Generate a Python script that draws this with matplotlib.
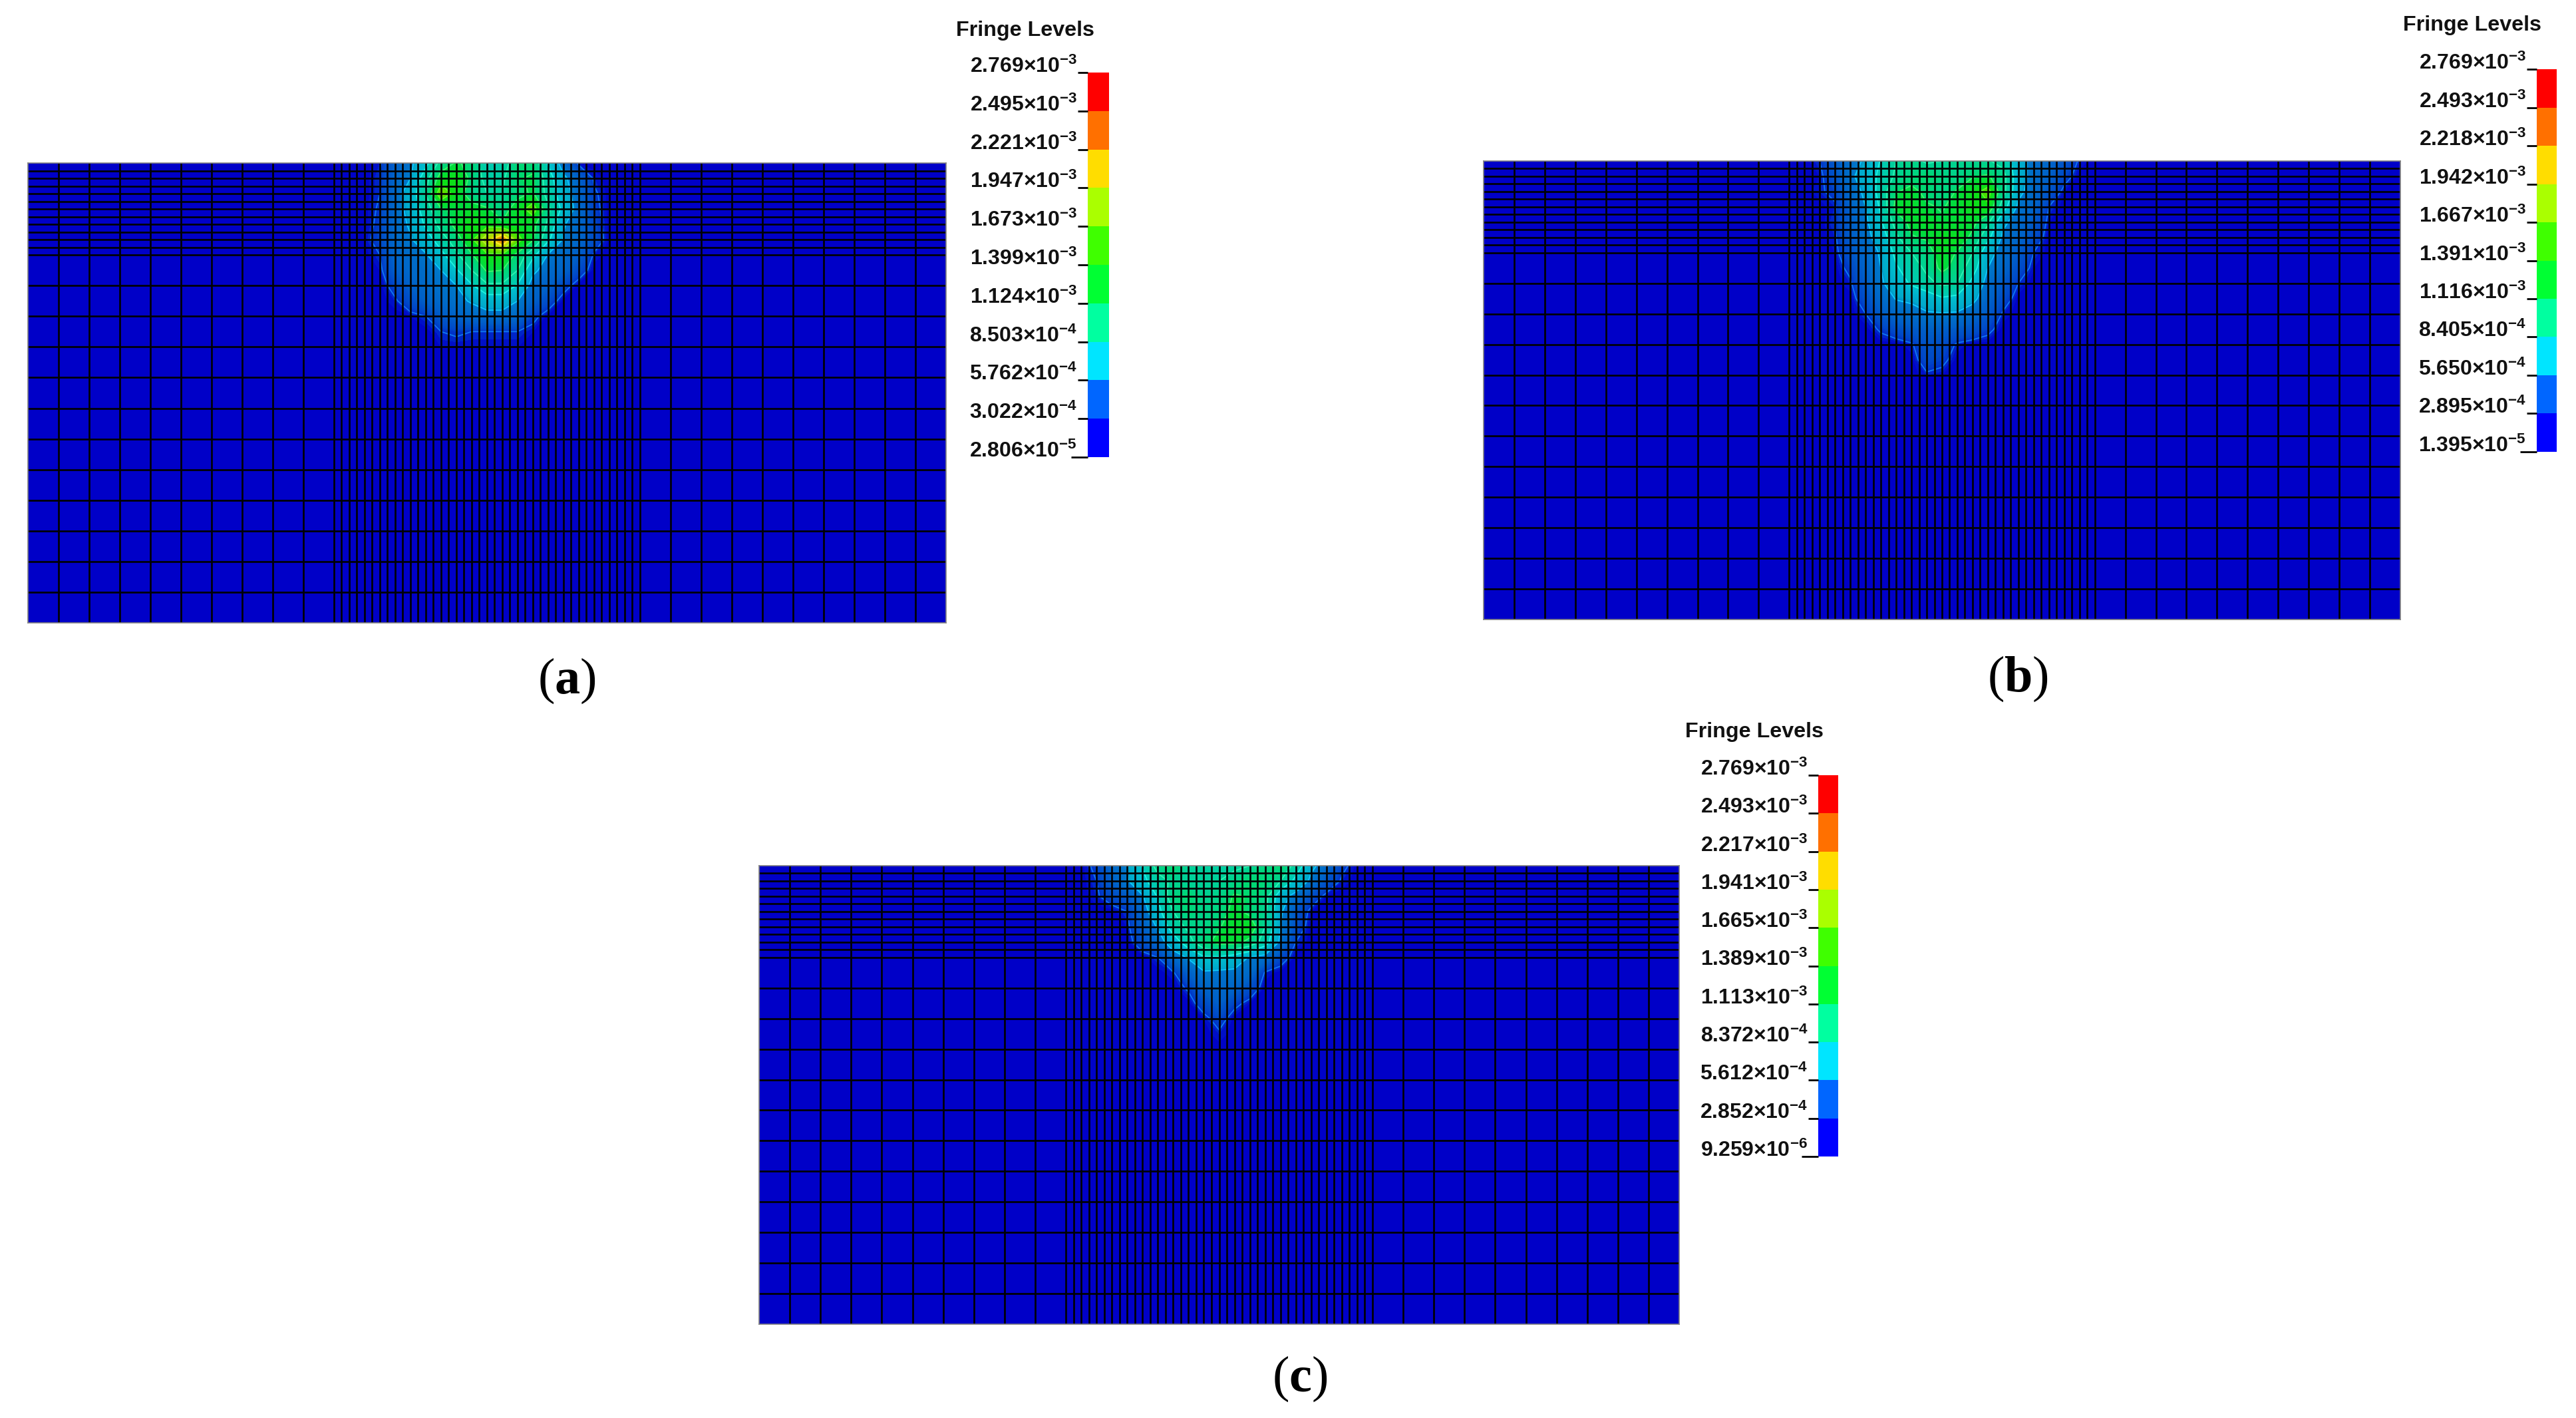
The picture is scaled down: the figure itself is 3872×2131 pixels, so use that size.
import matplotlib
matplotlib.use("Agg")
import matplotlib.pyplot as plt
from matplotlib.colors import LinearSegmentedColormap
import numpy as np

W, H = 3873, 2131

plt.rcParams["font.family"] = ["Liberation Sans", "DejaVu Sans"]
plt.rcParams["mathtext.fontset"] = "custom"
plt.rcParams["mathtext.rm"] = "Liberation Sans:bold"
plt.rcParams["mathtext.bf"] = "Liberation Serif:bold"
plt.rcParams["mathtext.default"] = "rm"

# mesh cell sizes across and down
cells_x = [2.0] * 10 + [0.5] * 40 + [2.0] * 10
cells_y = [0.5] * 12 + [2.0] * 12

# sample positions of the field tables, columns across and rows down
field_x = list(range(20, 41))
field_y = list(range(0, 15))

# fringe values, 1e-3 units
field_a = [
    [0, 0, 0, .02, .15, .25, .5, .95, 1.15, 1.05, .62, .7, 1.05, 1.05, .55, .18, .01, 0, 0, 0, 0],
    [0, 0, 0, .03, .17, .3, .75, 1.25, 1.35, 1.05, .75, .8, 1.1, 1.15, .7, .35, .15, .02, 0, 0, 0],
    [0, 0, 0, .03, .2, .42, .85, 1.6, 1.3, .95, .85, .85, 1.05, 1.15, .75, .42, .18, .04, 0, 0, 0],
    [0, 0, 0, .04, .2, .38, .72, 1.1, 1.15, 1.25, 1.15, 1.0, 1.25, 1.55, .9, .5, .2, .05, 0, 0, 0],
    [0, 0, 0, .05, .2, .33, .62, .95, 1.2, 1.35, 1.3, 1.15, 1.25, 1.2, .8, .32, .18, .06, 0, 0, 0],
    [0, 0, .01, .06, .2, .28, .45, .72, 1.0, 1.35, 1.85, 2.3, 1.5, 1.15, .62, .28, .18, .08, 0, 0, 0],
    [0, 0, 0, .03, .18, .22, .28, .5, .8, 1.1, 1.35, 1.35, 1.05, .65, .28, .2, .14, .02, 0, 0, 0],
    [0, 0, 0, .01, .14, .2, .22, .3, .55, .85, 1.15, 1.12, .85, .35, .2, .17, .07, 0, 0, 0, 0],
    [0, 0, 0, 0, .06, .15, .2, .25, .3, .55, .8, .8, .55, .2, .15, .06, 0, 0, 0, 0, 0],
    [0, 0, 0, 0, .02, .08, .15, .2, .25, .32, .42, .42, .3, .15, .07, 0, 0, 0, 0, 0, 0],
    [0, 0, 0, 0, 0, .01, .03, .12, .17, .2, .22, .22, .2, .05, 0, 0, 0, 0, 0, 0, 0],
    [0, 0, 0, 0, 0, 0, 0, .03, .04, .03, .03, .03, .03, .01, 0, 0, 0, 0, 0, 0, 0],
    [0, 0, 0, 0, 0, 0, 0, .01, .01, .01, .01, .01, .01, 0, 0, 0, 0, 0, 0, 0, 0],
    [0] * 21,
    [0] * 21,
]
field_b = [
    [0, 0, .03, .12, .22, .33, .6, .85, .95, .8, .85, .9, .9, .88, .75, .4, .22, .18, .1, .02, 0],
    [0, 0, .01, .1, .25, .42, .65, .9, 1.0, 1.12, 1.0, .95, 1.1, 1.15, .95, .4, .22, .15, .06, 0, 0],
    [0, 0, .02, .05, .2, .34, .7, 1.1, 1.2, 1.05, .95, 1.15, 1.3, 1.5, .95, .36, .2, .1, .01, 0, 0],
    [0, 0, 0, .02, .15, .3, .62, 1.2, 1.25, 1.15, 1.1, 1.2, 1.35, 1.35, .7, .25, .17, .03, 0, 0, 0],
    [0, 0, 0, .03, .14, .25, .55, .95, 1.2, 1.25, 1.15, 1.2, 1.2, .9, .35, .2, .12, .01, 0, 0, 0],
    [0, 0, 0, .02, .13, .22, .42, .8, 1.1, 1.15, 1.3, 1.3, 1.05, .65, .25, .18, .08, 0, 0, 0, 0],
    [0, 0, 0, .01, .1, .2, .32, .65, .85, 1.0, 1.25, 1.1, .85, .38, .22, .13, .03, 0, 0, 0, 0],
    [0, 0, 0, 0, .05, .17, .3, .55, .72, .9, 1.2, 1.0, .7, .3, .18, .08, .01, 0, 0, 0, 0],
    [0, 0, 0, 0, .02, .13, .27, .42, .62, .78, .9, .85, .5, .22, .12, .03, 0, 0, 0, 0, 0],
    [0, 0, 0, 0, 0, .08, .2, .31, .34, .4, .55, .5, .36, .17, .07, 0, 0, 0, 0, 0, 0],
    [0, 0, 0, 0, 0, .03, .13, .2, .22, .28, .28, .27, .2, .12, .02, 0, 0, 0, 0, 0, 0],
    [0, 0, 0, 0, 0, 0, .04, .08, .12, .15, .15, .12, .1, .05, 0, 0, 0, 0, 0, 0, 0],
    [0, 0, 0, 0, 0, 0, 0, 0, .02, .1, .08, .02, 0, 0, 0, 0, 0, 0, 0, 0, 0],
    [0, 0, 0, 0, 0, 0, 0, 0, 0, .07, .05, 0, 0, 0, 0, 0, 0, 0, 0, 0, 0],
    [0, 0, 0, 0, 0, 0, 0, 0, 0, .02, .01, 0, 0, 0, 0, 0, 0, 0, 0, 0, 0],
]
field_c = [
    [0, 0, .05, .18, .3, .6, .95, 1.1, .85, .8, .75, .8, .85, 1.0, 1.1, .75, .35, .2, .05, 0, 0],
    [0, 0, .03, .15, .28, .5, .75, .9, .85, .85, .85, .95, 1.1, 1.05, .85, .5, .25, .1, .02, 0, 0],
    [0, 0, .02, .07, .12, .28, .6, 1.0, 1.1, .9, .95, 1.15, 1.1, .95, .4, .22, .08, .01, 0, 0, 0],
    [0, 0, 0, 0, .03, .18, .5, .85, 1.05, .95, 1.0, 1.2, 1.05, .9, .33, .1, .01, 0, 0, 0, 0],
    [0, 0, 0, 0, .01, .14, .32, .72, .9, .95, 1.1, 1.25, 1.3, .85, .3, .08, 0, 0, 0, 0, 0],
    [0, 0, 0, 0, 0, .08, .2, .42, .75, 1.05, 1.2, 1.2, 1.05, .7, .25, .03, 0, 0, 0, 0, 0],
    [0, 0, 0, 0, 0, 0, .03, .2, .32, .55, .55, .45, .28, .22, .07, 0, 0, 0, 0, 0, 0],
    [0, 0, 0, 0, 0, 0, 0, .02, .15, .27, .25, .25, .2, .02, 0, 0, 0, 0, 0, 0, 0],
    [0, 0, 0, 0, 0, 0, 0, 0, .04, .17, .2, .17, .08, 0, 0, 0, 0, 0, 0, 0, 0],
    [0, 0, 0, 0, 0, 0, 0, 0, 0, .07, .15, .05, .01, 0, 0, 0, 0, 0, 0, 0, 0],
    [0, 0, 0, 0, 0, 0, 0, 0, 0, .01, .06, 0, 0, 0, 0, 0, 0, 0, 0, 0, 0],
    [0, 0, 0, 0, 0, 0, 0, 0, 0, 0, .02, 0, 0, 0, 0, 0, 0, 0, 0, 0, 0],
    [0] * 21,
    [0] * 21,
    [0] * 21,
]

# colour bar levels, bottom to top
levels_a = [2.806e-5, 3.022e-4, 5.762e-4, 8.503e-4, 1.124e-3, 1.399e-3, 1.673e-3, 1.947e-3, 2.221e-3, 2.495e-3, 2.769e-3]
levels_b = [1.395e-5, 2.895e-4, 5.650e-4, 8.405e-4, 1.116e-3, 1.391e-3, 1.667e-3, 1.942e-3, 2.218e-3, 2.493e-3, 2.769e-3]
levels_c = [9.259e-6, 2.852e-4, 5.612e-4, 8.372e-4, 1.113e-3, 1.389e-3, 1.665e-3, 1.941e-3, 2.217e-3, 2.493e-3, 2.769e-3]
bar_colors = ["#0000ff", "#0066ff", "#00e5ff", "#00ffa0", "#00ff33", "#3fff00", "#aaff00", "#ffdd00", "#ff7000", "#ff0000"]

# shaded colours on the model, value in 1e-3 units
shade_vals = [0, .015, .03, .06, .15, .29, .33, .55, .6, .85, 1.1, 1.15, 1.38, 1.42, 1.67, 1.95, 2.2, 2.5, 2.8]
shade_cols = ["#0000c8", "#0010c8", "#0030c8", "#0048c8", "#0060c8", "#0078c8", "#00a8cc", "#00c0cc", "#00c8b8",
              "#00d098", "#00d870", "#00dc40", "#10e010", "#40e000", "#90e000", "#e0d800", "#e88000", "#e00000", "#e00000"]
line_vals = [.03, .3, .58, .85, 1.12, 1.4, 1.67, 1.95]
line_cols = ["#1078f0", "#10c8f8", "#20f0e0", "#30f0b0", "#40f070", "#60f030", "#b0f030", "#f8e830"]


def px_axes(fig, left, top, right, bottom):
    return fig.add_axes([left / W, 1 - bottom / H, (right - left) / W, (bottom - top) / H])


def exp_label(v):
    m, e = f"{v:.3e}".split("e")
    return f"{m}×10$^{{{int(e)}}}$".replace("-", "−")


fig = plt.figure(figsize=(W / 100, H / 100), dpi=100)
cmap = LinearSegmentedColormap.from_list("fringe", [(v / shade_vals[-1], c) for v, c in zip(shade_vals, shade_cols)], N=1024)
xe = np.concatenate([[0], np.cumsum(cells_x)])
ye = np.concatenate([[0], np.cumsum(cells_y)])


def draw_panel(field, levels, box, bar_box, title_xy, tag, tag_xy):
    ax = px_axes(fig, *box)
    ax.set_facecolor("#0000c8")
    ax.contourf(field_x, field_y, field, levels=np.linspace(0, 2.8, 281), cmap=cmap, vmin=0, vmax=2.8, antialiased=False)
    ax.contour(field_x, field_y, field, levels=line_vals, colors=line_cols, linewidths=1.3)
    ax.vlines(xe[1:-1], 0, ye[-1], color="black", lw=1.9)
    ax.hlines(ye[1:-1], 0, xe[-1], color="black", lw=1.9)
    ax.set_xlim(0, xe[-1])
    ax.set_ylim(ye[-1], 0)
    ax.set_xticks([])
    ax.set_yticks([])
    for s in ax.spines.values():
        s.set_color("#808080")
        s.set_linewidth(1.2)

    cb = px_axes(fig, *bar_box)
    cb.bar([0] * 10, np.diff(levels), bottom=levels[:-1], width=1, color=bar_colors)
    cb.set_xlim(-0.5, 0.5)
    cb.set_ylim(levels[0], levels[-1])
    cb.set_xticks([])
    cb.set_yticks(levels)
    cb.set_yticklabels([])
    # labels sit just above their ticks
    for v in levels:
        cb.annotate(exp_label(v), (0, v), xycoords=cb.get_yaxis_transform(), xytext=(-11.5, -5),
                    textcoords="offset points", ha="right", va="bottom", fontsize=23, fontweight="bold",
                    color="#111111", annotation_clip=False)
    cb.tick_params(axis="y", length=11, width=2)
    cb.yaxis.get_major_ticks()[0].tick1line.set_markersize(18)
    for s in cb.spines.values():
        s.set_visible(False)

    fig.text(title_xy[0] / W, 1 - title_xy[1] / H, "Fringe Levels", fontsize=23.2, fontweight="bold",
             color="#111111", ha="left", va="center")
    fig.text(tag_xy[0] / W, 1 - tag_xy[1] / H, f"($\\mathbf{{{tag}}}$)", family="Liberation Serif", fontsize=55,
             ha="center", va="center")


draw_panel(field_a, levels_a, (42, 245, 1422, 936), (1635, 109, 1667, 687), (1437, 46), "a", (852, 1023))
draw_panel(field_b, levels_b, (2230, 242, 3608, 931), (3813, 104, 3843, 679), (3612, 38), "b", (3033, 1020))
draw_panel(field_c, levels_c, (1141, 1301, 2524, 1990), (2733, 1165, 2763, 1738), (2533, 1100), "c", (1954, 2072))

fig.savefig("out.png", dpi=100)
